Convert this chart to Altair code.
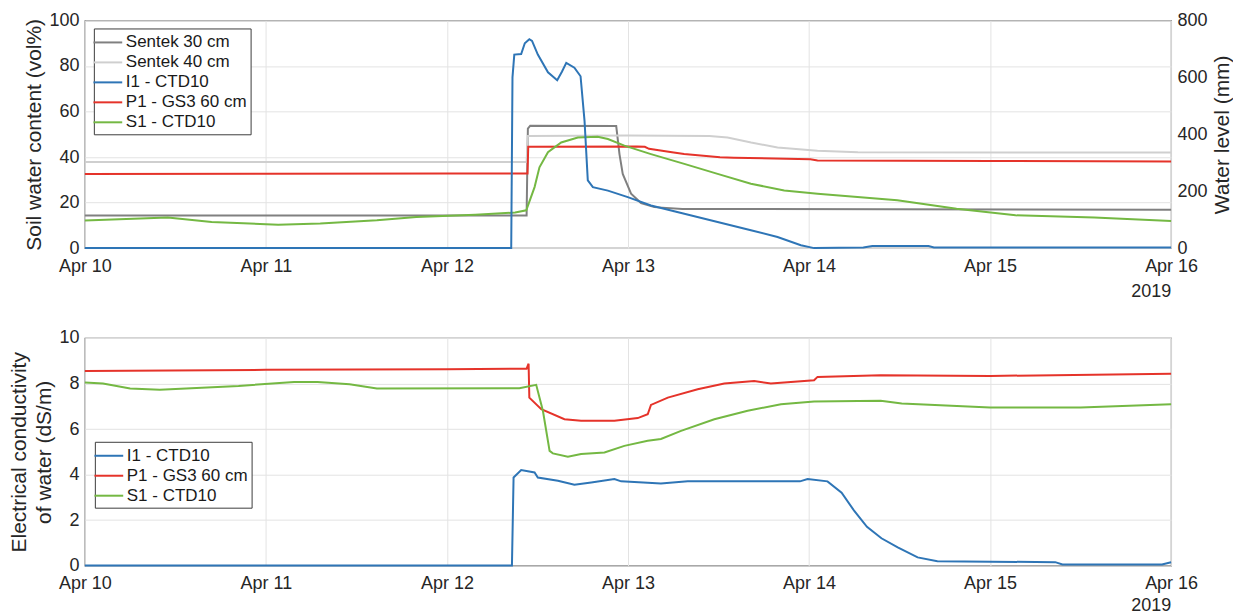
import altair as alt
import pandas as pd

BASE = pd.Timestamp("2019-04-10")
FONT = "Liberation Sans"

# ---------------- top panel: soil water content (vol%) ----------------
s30_day = [0, 2.44, 2.447, 2.46, 2.935, 2.953, 2.971, 3.017, 3.072, 3.146, 3.3, 6]
s30_val = [14.3, 14.3, 52.5, 53.8, 53.6, 41.3, 32.6, 23.9, 19.8, 18.0, 17.2, 16.9]

s40_day = [0, 2.44, 2.447, 3.0, 3.45, 3.55, 3.68, 3.826, 4.047, 4.27, 6]
s40_val = [37.8, 37.8, 49.3, 49.5, 49.2, 48.6, 46.4, 44.2, 42.8, 42.1, 42.0]

p1_day = [0, 1.0, 2.0, 2.445, 2.449, 3.05, 3.093, 3.116, 3.243, 3.31, 3.508, 3.585, 4.008, 4.047, 5.0, 6]
p1_val = [32.6, 32.7, 32.8, 32.8, 44.5, 44.6, 44.5, 43.6, 42.1, 41.3, 39.9, 39.7, 39.0, 38.5, 38.3, 38.0]

s1_day = [0, 0.458, 0.7, 1.068, 1.3, 1.613, 1.831, 2.157, 2.377, 2.438, 2.484, 2.511,
          2.558, 2.631, 2.723, 2.833, 2.889, 2.98, 3.127, 3.311, 3.495, 3.679, 3.863,
          4.047, 4.488, 4.815, 5.141, 5.576, 6]
s1_val = [12.1, 13.4, 11.5, 10.3, 10.8, 12.2, 13.7, 14.7, 15.6, 16.6, 26.8, 35.5,
          42.1, 46.4, 48.6, 48.9, 47.9, 45.0, 41.3, 37.0, 32.6, 28.3, 25.3,
          23.9, 21.0, 17.3, 14.4, 13.4, 11.9]

# water level (mm), right axis
i1_day = [0, 2.355, 2.362, 2.372, 2.410, 2.43, 2.455, 2.47, 2.502, 2.558, 2.609, 2.635,
          2.659, 2.704, 2.738, 2.760, 2.778, 2.806, 2.889, 2.999, 3.127, 3.311, 3.495,
          3.679, 3.826, 3.955, 4.028, 4.30, 4.35, 4.66, 4.69, 6]
i1_val = [0, 0, 600, 680, 682, 720, 734, 728, 680, 618, 590, 620,
          651, 634, 604, 447, 238, 214, 202, 179, 150, 121, 92,
          63, 39, 10, 0, 2, 7, 7, 2, 2]

# ---------------- bottom panel: EC of water (dS/m) ----------------
ec_i1_day = [0, 2.359, 2.368, 2.41, 2.484, 2.502, 2.613, 2.704, 2.797, 2.925, 2.962,
             3.182, 3.33, 3.95, 3.992, 4.102, 4.18, 4.25, 4.32, 4.40, 4.49, 4.60,
             4.709, 5.36, 5.40, 5.95, 6]
ec_i1_val = [0, 0, 3.87, 4.2, 4.09, 3.87, 3.73, 3.55, 3.65, 3.80, 3.70,
             3.61, 3.70, 3.70, 3.80, 3.70, 3.2, 2.4, 1.7, 1.2, 0.8, 0.36,
             0.19, 0.15, 0.05, 0.05, 0.15]

ec_p1_day = [0, 1.0, 2.0, 2.44, 2.451, 2.455, 2.521, 2.649, 2.741, 2.925, 3.054,
             3.109, 3.127, 3.22, 3.385, 3.532, 3.697, 3.789, 4.028, 4.047, 4.396,
             5.0, 6]
ec_p1_val = [8.55, 8.6, 8.62, 8.65, 8.87, 7.38, 6.87, 6.43, 6.36, 6.36, 6.48,
             6.65, 7.06, 7.38, 7.75, 8.0, 8.11, 8.0, 8.14, 8.29, 8.36,
             8.33, 8.43]

ec_s1_day = [0, 0.1, 0.25, 0.414, 0.849, 1.156, 1.285, 1.462, 1.613, 2.4, 2.493,
             2.53, 2.567, 2.585, 2.668, 2.741, 2.87, 2.98, 3.109, 3.182, 3.293,
             3.477, 3.661, 3.845, 4.028, 4.396, 4.512, 5.0, 5.5, 6]
ec_s1_val = [8.04, 8.0, 7.78, 7.73, 7.89, 8.07, 8.07, 7.97, 7.78, 7.79, 7.94,
             6.80, 5.04, 4.93, 4.78, 4.9, 4.97, 5.26, 5.48, 5.56, 5.92,
             6.43, 6.80, 7.09, 7.21, 7.24, 7.12, 6.95, 6.95, 7.09]

top_names = ["Sentek 30 cm", "Sentek 40 cm", "I1 - CTD10", "P1 - GS3 60 cm", "S1 - CTD10"]
top_colors = ["#808080", "#cfcfcf", "#2e75b6", "#e5332a", "#74b843"]
bot_names = ["I1 - CTD10", "P1 - GS3 60 cm", "S1 - CTD10"]
bot_colors = ["#2e75b6", "#e5332a", "#74b843"]

day_ticks = [10, 11, 12, 13, 14, 15, 16]
year_label = "2019"


def frame(days, vals, name):
    return pd.DataFrame({
        "time": [(BASE + pd.Timedelta(days=d)).strftime("%Y-%m-%dT%H:%M:%S") for d in days],
        "value": vals,
        "series": name,
    })


top_df = pd.concat([
    frame(s30_day, s30_val, "Sentek 30 cm"),
    frame(s40_day, s40_val, "Sentek 40 cm"),
    frame(p1_day, p1_val, "P1 - GS3 60 cm"),
    frame(s1_day, s1_val, "S1 - CTD10"),
])
wl_df = frame(i1_day, i1_val, "I1 - CTD10")
bot_df = pd.concat([
    frame(ec_i1_day, ec_i1_val, "I1 - CTD10"),
    frame(ec_p1_day, ec_p1_val, "P1 - GS3 60 cm"),
    frame(ec_s1_day, ec_s1_val, "S1 - CTD10"),
])
year_df = pd.DataFrame({"time": ["2019-04-16T00:00:00"], "label": [year_label]})

W, H = 1088, 228

x_scale = alt.Scale(domain=[alt.DateTime(year=2019, month=4, date=10),
                            alt.DateTime(year=2019, month=4, date=16)])
x_axis = alt.Axis(title=None, format="%b %d", labelFlush=False,
                  values=[alt.DateTime(year=2019, month=4, date=d) for d in day_ticks],
                  labelPadding=9)
X = alt.X("time:T", scale=x_scale, axis=x_axis)


def legend(x, y):
    return alt.Legend(title=None, orient="none", legendX=x, legendY=y,
                      symbolType="M-1.6,0H1.6", symbolSize=324, symbolStrokeWidth=2,
                      labelFont=FONT, labelFontSize=17, labelColor="#1a1a1a",
                      labelOffset=8, strokeColor="#3c3c3c", fillColor="white",
                      padding=4, rowPadding=2)


top_color = alt.Color("series:N", scale=alt.Scale(domain=top_names, range=top_colors),
                      legend=legend(9, 8))

swc = alt.Chart(top_df).mark_line(strokeWidth=2).encode(
    x=X,
    y=alt.Y("value:Q", scale=alt.Scale(domain=[0, 100]),
            axis=alt.Axis(title="Soil water content (vol%)", values=[0, 20, 40, 60, 80, 100])),
    color=top_color,
    detail="series:N",
)
wl = alt.Chart(wl_df).mark_line(strokeWidth=2).encode(
    x=X,
    y=alt.Y("value:Q", scale=alt.Scale(domain=[0, 800]),
            axis=alt.Axis(title="Water level (mm)", orient="right", grid=False,
                          titleAngle=270, titleBaseline="top",
                          values=[0, 200, 400, 600, 800])),
    color=top_color,
)


def year_text(h, dy):
    return alt.Chart(year_df).mark_text(font=FONT, fontSize=18, color="#262626", dx=-20).encode(
        x=alt.X("time:T", scale=x_scale, axis=x_axis),
        y=alt.value(h + dy),
        text="label:N",
    )


top = alt.layer(swc, wl, year_text(H, 44)).resolve_scale(y="independent").properties(width=W, height=H)

bot_color = alt.Color("series:N", scale=alt.Scale(domain=bot_names, range=bot_colors),
                      legend=legend(10, 104))
ec = alt.Chart(bot_df).mark_line(strokeWidth=2).encode(
    x=X,
    y=alt.Y("value:Q", scale=alt.Scale(domain=[0, 10]),
            axis=alt.Axis(title=["Electrical conductivity", "of water (dS/m)"],
                          values=[0, 2, 4, 6, 8, 10], titleLineHeight=25)),
    color=bot_color,
)
bottom = alt.layer(ec, year_text(H, 40)).properties(width=W, height=H)

chart = alt.vconcat(top, bottom, spacing=26).resolve_scale(color="independent").resolve_legend(
    color="independent"
).properties(padding={"left": 0, "top": 2, "right": 0, "bottom": 0}).configure_axis(
    labelFont=FONT, labelFontSize=18, labelColor="#262626",
    titleFont=FONT, titleFontSize=21, titleFontWeight="normal", titleColor="#262626",
    titlePadding=4, labelPadding=6, ticks=False, domain=False,
    gridColor="#e3e3e3", gridWidth=1,
).configure_view(stroke="#555555", strokeWidth=1.2)

chart.save("out.html", embed_options={"renderer": "svg", "actions": False})
